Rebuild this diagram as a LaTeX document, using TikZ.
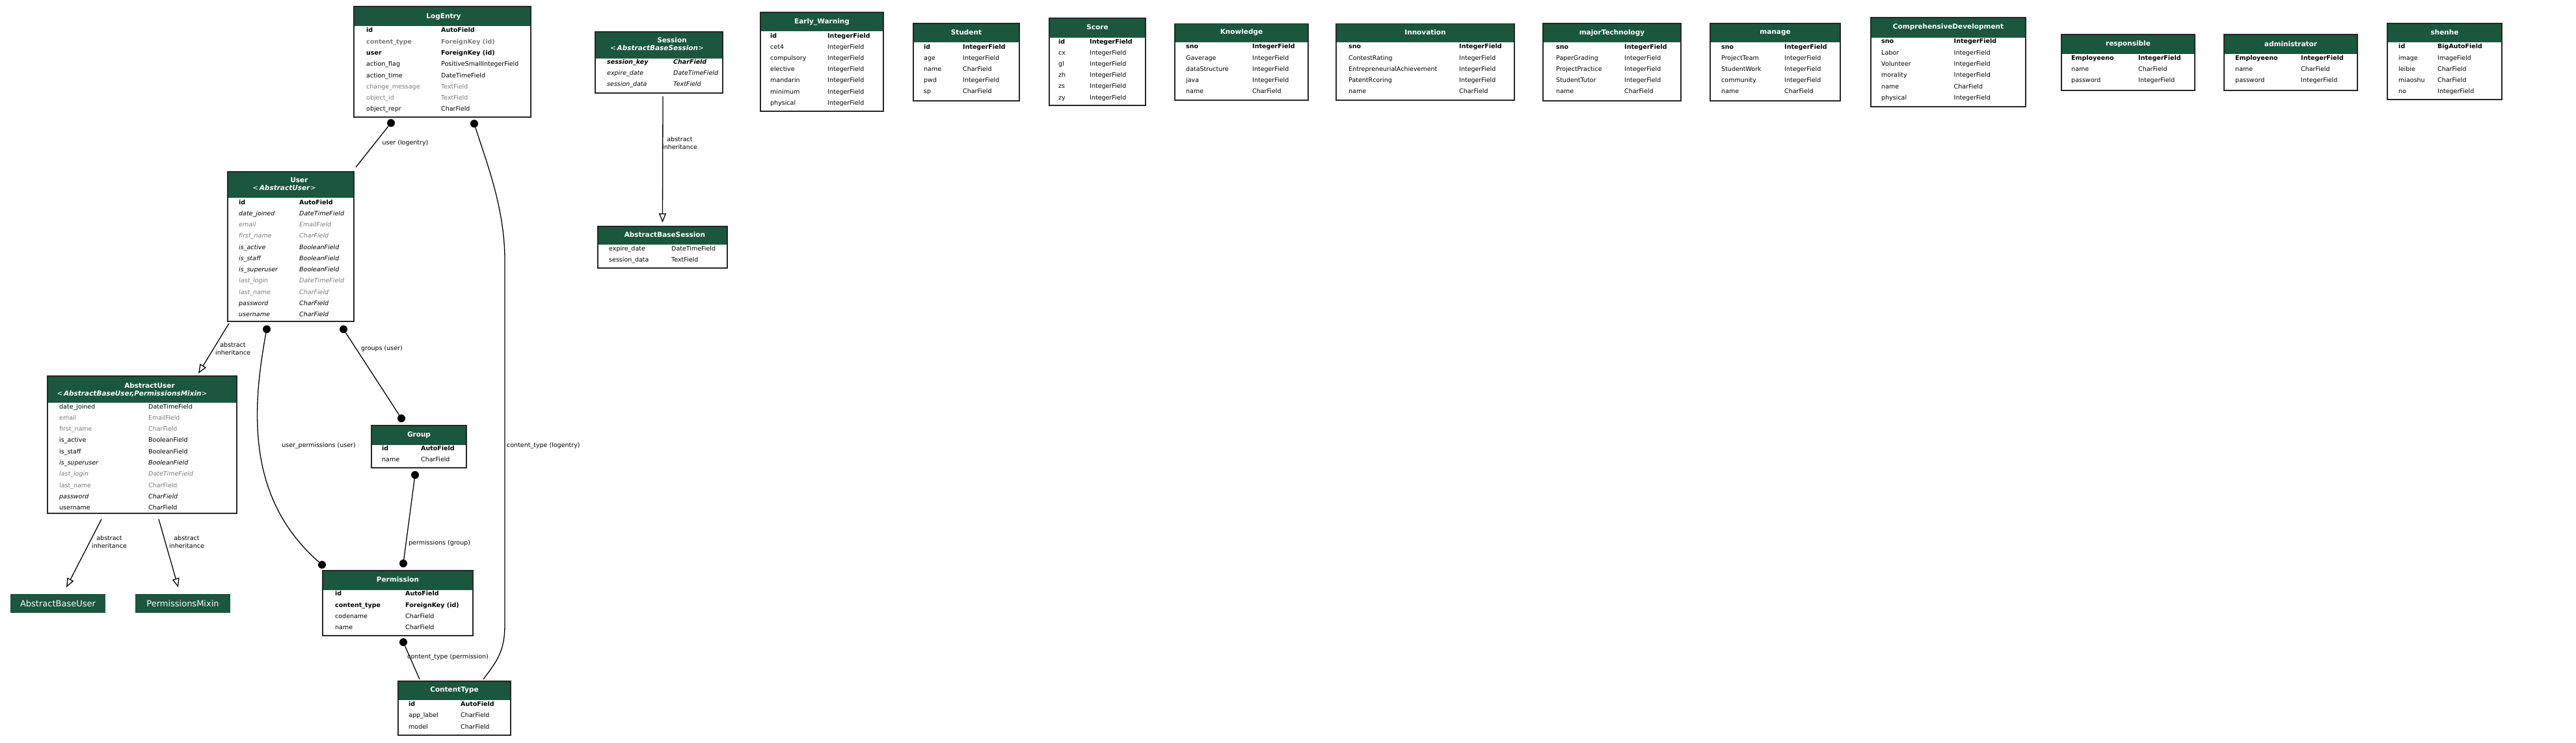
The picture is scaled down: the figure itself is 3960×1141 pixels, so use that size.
\documentclass[tikz,border=0pt]{standalone}
\usepackage{fontspec}
\setmainfont{DejaVu Sans}
\usetikzlibrary{arrows.meta}
\definecolor{hdr}{HTML}{1B563F}
\definecolor{gtxt}{HTML}{7B7B7B}
\newcommand\fs{\fontsize{9.5}{12}\selectfont}
\newcommand\tsz{\fontsize{10.5}{13}\selectfont\bfseries}
\newcommand\mtable[6]{%
  \fill[hdr] (#2,#3) rectangle (#4,#6);
  \node[tbl, minimum width={#4-#2}, minimum height={#5-#3}] (#1) at (#2,#3) {};}
\newcommand\frow[7]{\node[#5] (#1a) at (#2,#4) {#6};\node[#5] (#1b) at (#3,#4) {#7};}
\tikzset{
 tbl/.style={draw=black!85, line width=1.5pt, anchor=north west, inner sep=0pt, outer sep=0pt},
 ttl/.style={text=white, font=\tsz, inner sep=0pt},
 fn/.style={anchor=west, inner sep=0pt, font=\fs, text height=7pt, text depth=2pt},
 fnb/.style={fn, font=\fs\bfseries},
 fng/.style={fn, text=gtxt},
 fni/.style={fn, font=\fs\itshape},
 fngi/.style={fn, font=\fs\itshape, text=gtxt},
 fnbi/.style={fn, font=\fs\bfseries\itshape},
 fnbg/.style={fn, font=\fs\bfseries, text=gtxt},
 edge/.style={line width=1.3pt, black},
 inh/.style={edge, -{Triangle[open, length=14pt, width=11pt, line width=1.3pt]}},
 dot/.style={circle, fill=black, inner sep=0pt, minimum size=12pt},
 lbl/.style={font=\fs, inner sep=0pt, align=center},
 plainbox/.style={fill=hdr, text=white, font=\fontsize{13}{15}\selectfont, minimum width=146pt, minimum height=29pt, inner sep=0pt},
}
\begin{document}
\begin{tikzpicture}[x=1pt,y=-1pt]
\useasboundingbox[fill=white] (0,0) rectangle (3960,1141);

% ---------------- LogEntry
\mtable{logentry}{544}{10}{816}{180}{40}
\node[ttl] (logentry-t) at (682,25.5) {LogEntry};
\frow{le1}{563}{678}{47.3}{fnb}{id}{AutoField}
\frow{le2}{563}{678}{64.6}{fnbg}{content\_type}{ForeignKey (id)}
\frow{le3}{563}{678}{81.9}{fnb}{user}{ForeignKey (id)}
\frow{le4}{563}{678}{99.2}{fn}{action\_flag}{PositiveSmallIntegerField}
\frow{le5}{563}{678}{116.5}{fn}{action\_time}{DateTimeField}
\frow{le6}{563}{678}{133.8}{fng}{change\_message}{TextField}
\frow{le7}{563}{678}{151.1}{fng}{object\_id}{TextField}
\frow{le8}{563}{678}{168.4}{fn}{object\_repr}{CharField}

% ---------------- User
\mtable{user}{350}{264}{544}{494}{304}
\node[ttl] (user-t1) at (460,276.7) {User};
\node[ttl] (user-t2) at (437,288.8) {{\mdseries<}\,\textit{AbstractUser}{\mdseries>}};
\frow{us1}{367}{460}{311.5}{fnb}{id}{AutoField}
\frow{us2}{367}{460}{328.75}{fni}{date\_joined}{DateTimeField}
\frow{us3}{367}{460}{346}{fngi}{email}{EmailField}
\frow{us4}{367}{460}{363.25}{fngi}{first\_name}{CharField}
\frow{us5}{367}{460}{380.5}{fni}{is\_active}{BooleanField}
\frow{us6}{367}{460}{397.75}{fni}{is\_staff}{BooleanField}
\frow{us7}{367}{460}{415}{fni}{is\_superuser}{BooleanField}
\frow{us8}{367}{460}{432.25}{fngi}{last\_login}{DateTimeField}
\frow{us9}{367}{460}{449.5}{fngi}{last\_name}{CharField}
\frow{us10}{367}{460}{466.75}{fni}{password}{CharField}
\frow{us11}{367}{460}{484}{fni}{username}{CharField}

% ---------------- AbstractUser
\mtable{au}{73}{578}{364}{789}{619}
\node[ttl] (au-t1) at (230,593) {AbstractUser};
\node[ttl] (au-t2) at (203,605.5) {{\mdseries<}\,\textit{AbstractBaseUser,PermissionsMixin}{\mdseries>}};
\frow{au1}{91}{228}{625.5}{fn}{date\_joined}{DateTimeField}
\frow{au2}{91}{228}{642.8}{fng}{email}{EmailField}
\frow{au3}{91}{228}{660.1}{fng}{first\_name}{CharField}
\frow{au4}{91}{228}{677.4}{fn}{is\_active}{BooleanField}
\frow{au5}{91}{228}{694.7}{fn}{is\_staff}{BooleanField}
\frow{au6}{91}{228}{712}{fni}{is\_superuser}{BooleanField}
\frow{au7}{91}{228}{729.3}{fngi}{last\_login}{DateTimeField}
\frow{au8}{91}{228}{746.6}{fng}{last\_name}{CharField}
\frow{au9}{91}{228}{763.9}{fni}{password}{CharField}
\frow{au10}{91}{228}{781.2}{fn}{username}{CharField}

\node[plainbox] (abu) at (89,927.5) {AbstractBaseUser};
\node[plainbox] (pm) at (281,927.5) {PermissionsMixin};

% ---------------- Session
\mtable{session}{915}{49}{1111}{143}{90}
\node[ttl] (session-t1) at (1033,61.7) {Session};
\node[ttl] (session-t2) at (1010,73.3) {{\mdseries<}\,\textit{AbstractBaseSession}{\mdseries>}};
\frow{se1}{933}{1035}{95.8}{fnbi}{session\_key}{CharField}
\frow{se2}{933}{1035}{113.1}{fni}{expire\_date}{DateTimeField}
\frow{se3}{933}{1035}{130.4}{fni}{session\_data}{TextField}

\mtable{abs}{919}{348}{1118}{412}{376}
\node[ttl] (abs-t) at (1022,361) {AbstractBaseSession};
\frow{ab1}{936}{1032}{382.7}{fn}{expire\_date}{DateTimeField}
\frow{ab2}{936}{1032}{400}{fn}{session\_data}{TextField}

% ---------------- Group
\mtable{group}{571}{654}{717}{719}{683.5}
\node[ttl] (group-t) at (644,668.5) {Group};
\frow{gr1}{587}{647}{689.6}{fnb}{id}{AutoField}
\frow{gr2}{587}{647}{706.8}{fn}{name}{CharField}

% ---------------- Permission
\mtable{perm}{496}{877}{727}{977}{907}
\node[ttl] (perm-t) at (611.5,891) {Permission};
\frow{pe1}{515}{623}{913.3}{fnb}{id}{AutoField}
\frow{pe2}{515}{623}{930.6}{fnb}{content\_type}{ForeignKey (id)}
\frow{pe3}{515}{623}{947.9}{fn}{codename}{CharField}
\frow{pe4}{515}{623}{965.2}{fn}{name}{CharField}

% ---------------- ContentType
\mtable{ct}{612}{1047}{785}{1130}{1076}
\node[ttl] (ct-t) at (698.5,1061) {ContentType};
\frow{ct1}{628}{708}{1082.5}{fnb}{id}{AutoField}
\frow{ct2}{628}{708}{1100.3}{fn}{app\_label}{CharField}
\frow{ct3}{628}{708}{1118}{fn}{model}{CharField}

% ---------------- Early_Warning
\mtable{ew}{1169}{19}{1358}{171}{48}
\node[ttl] (ew-t) at (1263.5,33.7) {Early\_Warning};
\frow{ew1}{1184}{1272}{55.5}{fnb}{id}{IntegerField}
\frow{ew2}{1184}{1272}{72.7}{fn}{cet4}{IntegerField}
\frow{ew3}{1184}{1272}{89.9}{fn}{compulsory}{IntegerField}
\frow{ew4}{1184}{1272}{107.1}{fn}{elective}{IntegerField}
\frow{ew5}{1184}{1272}{124.3}{fn}{mandarin}{IntegerField}
\frow{ew6}{1184}{1272}{141.5}{fn}{minimum}{IntegerField}
\frow{ew7}{1184}{1272}{158.7}{fn}{physical}{IntegerField}

% ---------------- Student
\mtable{stu}{1404}{36}{1567}{155}{65.3}
\node[ttl] (stu-t) at (1485.5,49.3) {Student};
\frow{st1}{1420}{1480}{72.5}{fnb}{id}{IntegerField}
\frow{st2}{1420}{1480}{89.6}{fn}{age}{IntegerField}
\frow{st3}{1420}{1480}{106.7}{fn}{name}{CharField}
\frow{st4}{1420}{1480}{123.8}{fn}{pwd}{IntegerField}
\frow{st5}{1420}{1480}{140.9}{fn}{sp}{CharField}

% ---------------- Score
\mtable{score}{1613}{28}{1761}{162}{57.7}
\node[ttl] (score-t) at (1687,42) {Score};
\frow{sc1}{1627}{1675}{64.5}{fnb}{id}{IntegerField}
\frow{sc2}{1627}{1675}{81.7}{fn}{cx}{IntegerField}
\frow{sc3}{1627}{1675}{98.9}{fn}{gl}{IntegerField}
\frow{sc4}{1627}{1675}{116.1}{fn}{zh}{IntegerField}
\frow{sc5}{1627}{1675}{133.3}{fn}{zs}{IntegerField}
\frow{sc6}{1627}{1675}{150.5}{fn}{zy}{IntegerField}

% ---------------- Knowledge
\mtable{know}{1806}{36.5}{2011}{154}{64.7}
\node[ttl] (know-t) at (1908.5,49.7) {Knowledge};
\frow{kn1}{1823}{1925}{72.3}{fnb}{sno}{IntegerField}
\frow{kn2}{1823}{1925}{89.55}{fn}{Gaverage}{IntegerField}
\frow{kn3}{1823}{1925}{106.8}{fn}{dataStructure}{IntegerField}
\frow{kn4}{1823}{1925}{124.05}{fn}{java}{IntegerField}
\frow{kn5}{1823}{1925}{141.3}{fn}{name}{CharField}

% ---------------- Innovation
\mtable{inno}{2054}{36.5}{2328}{154}{64.7}
\node[ttl] (inno-t) at (2191,49.7) {Innovation};
\frow{in1}{2073}{2243}{72.3}{fnb}{sno}{IntegerField}
\frow{in2}{2073}{2243}{89.55}{fn}{ContestRating}{IntegerField}
\frow{in3}{2073}{2243}{106.8}{fn}{EntrepreneurialAchievement}{IntegerField}
\frow{in4}{2073}{2243}{124.05}{fn}{PatentRcoring}{IntegerField}
\frow{in5}{2073}{2243}{141.3}{fn}{name}{CharField}

% ---------------- majorTechnology
\mtable{major}{2372}{36}{2584}{155}{65.3}
\node[ttl] (major-t) at (2478,50.3) {majorTechnology};
\frow{mt1}{2392}{2497}{72.7}{fnb}{sno}{IntegerField}
\frow{mt2}{2392}{2497}{89.8}{fn}{PaperGrading}{IntegerField}
\frow{mt3}{2392}{2497}{106.9}{fn}{ProjectPractice}{IntegerField}
\frow{mt4}{2392}{2497}{124}{fn}{StudentTutor}{IntegerField}
\frow{mt5}{2392}{2497}{141.1}{fn}{name}{CharField}

% ---------------- manage
\mtable{manage}{2629}{36}{2829}{155}{65.3}
\node[ttl] (manage-t) at (2729,50.3) {manage};
\frow{ma1}{2646}{2743}{72.7}{fnb}{sno}{IntegerField}
\frow{ma2}{2646}{2743}{89.8}{fn}{ProjectTeam}{IntegerField}
\frow{ma3}{2646}{2743}{106.9}{fn}{StudentWork}{IntegerField}
\frow{ma4}{2646}{2743}{124}{fn}{community}{IntegerField}
\frow{ma5}{2646}{2743}{141.1}{fn}{name}{CharField}

% ---------------- ComprehensiveDevelopment
\mtable{comp}{2876}{27}{3114}{164}{58}
\node[ttl] (comp-t) at (2995,42) {ComprehensiveDevelopment};
\frow{cd1}{2892}{3003.5}{64.3}{fnb}{sno}{IntegerField}
\frow{cd2}{2892}{3003.5}{81.6}{fn}{Labor}{IntegerField}
\frow{cd3}{2892}{3003.5}{98.9}{fn}{Volunteer}{IntegerField}
\frow{cd4}{2892}{3003.5}{116.2}{fn}{morality}{IntegerField}
\frow{cd5}{2892}{3003.5}{133.5}{fn}{name}{CharField}
\frow{cd6}{2892}{3003.5}{150.8}{fn}{physical}{IntegerField}

% ---------------- responsible
\mtable{resp}{3169}{53}{3374}{139}{83.3}
\node[ttl] (resp-t) at (3271.5,67.3) {responsible};
\frow{re1}{3184}{3287}{90}{fnb}{Employeeno}{IntegerField}
\frow{re2}{3184}{3287}{107.3}{fn}{name}{CharField}
\frow{re3}{3184}{3287}{124.3}{fn}{password}{IntegerField}

% ---------------- administrator
\mtable{admin}{3419}{53}{3624}{139}{83.3}
\node[ttl] (admin-t) at (3521.5,67.3) {administrator};
\frow{ad1}{3436}{3537}{90}{fnb}{Employeeno}{IntegerField}
\frow{ad2}{3436}{3537}{107.3}{fn}{name}{CharField}
\frow{ad3}{3436}{3537}{124.3}{fn}{password}{IntegerField}

% ---------------- shenhe
\mtable{shenhe}{3670}{36}{3846}{153}{65}
\node[ttl] (shenhe-t) at (3758,50) {shenhe};
\frow{sh1}{3687}{3747}{72.3}{fnb}{id}{BigAutoField}
\frow{sh2}{3687}{3747}{89.5}{fn}{image}{ImageField}
\frow{sh3}{3687}{3747}{106.7}{fn}{leibie}{CharField}
\frow{sh4}{3687}{3747}{123.9}{fn}{miaoshu}{CharField}
\frow{sh5}{3687}{3747}{141.1}{fn}{no}{IntegerField}

% ---------------- dots
\node[dot] (d-le1) at (601,189) {};
\node[dot] (d-le2) at (729,190) {};
\node[dot] (d-us1) at (410,506) {};
\node[dot] (d-us2) at (528,506) {};
\node[dot] (d-gr1) at (617,643) {};
\node[dot] (d-gr2) at (638,730) {};
\node[dot] (d-pe1) at (495,868) {};
\node[dot] (d-pe2) at (620,866) {};
\node[dot] (d-pe3) at (620,987) {};

% ---------------- connectors
\draw[inh] ([xshift=6pt,yshift=-5pt]session.south) -- ([yshift=6pt]abs.north);
\node[lbl] (l-sess) at (1045,220) {abstract\\inheritance};

\draw[inh] ([shift={(2pt,-3pt)}]user.south west) -- ([shift={(-59pt,4pt)}]au.north east);
\node[lbl] (l-user) at (358,536) {abstract\\inheritance};

\draw[inh] ([shift={(83pt,-9pt)}]au.south west) -- ([shift={(13pt,10pt)}]abu.north);
\node[lbl] (l-abu) at (168,833) {abstract\\inheritance};
\draw[inh] ([shift={(171pt,-9pt)}]au.south west) -- ([shift={(-7pt,10pt)}]pm.north);
\node[lbl] (l-pm) at (287,833) {abstract\\inheritance};

\draw[edge] (d-le1) -- ([shift={(3pt,7pt)}]user.north east);
\node[lbl] (l-ule) at (623,220) {user (logentry)};

\draw[edge] (d-le2) .. controls (748,250) and (776,320) .. (776,400) -- (776,960)
  .. controls (776,1000) and (765,1015) .. ([shift={(-42pt,3pt)}]ct.north east);
\node[lbl, anchor=west] (l-ctle) at (779,685) {content\_type (logentry)};

\draw[edge] (d-us2) -- (d-gr1);
\node[lbl] (l-gu) at (587,536) {groups (user)};

\draw[edge] (d-us1) .. controls (385,640) and (383,770) .. (d-pe1);
\node[lbl] (l-upu) at (490,685) {user\_permissions (user)};

\draw[edge] (d-gr2) -- (d-pe2);
\node[lbl, anchor=west] (l-pg) at (628,835) {permissions (group)};

\draw[edge] (d-pe3) -- ([shift={(33pt,3pt)}]ct.north west);
\node[lbl, anchor=west] (l-ctp) at (626,1010) {content\_type (permission)};
\end{tikzpicture}
\end{document}
